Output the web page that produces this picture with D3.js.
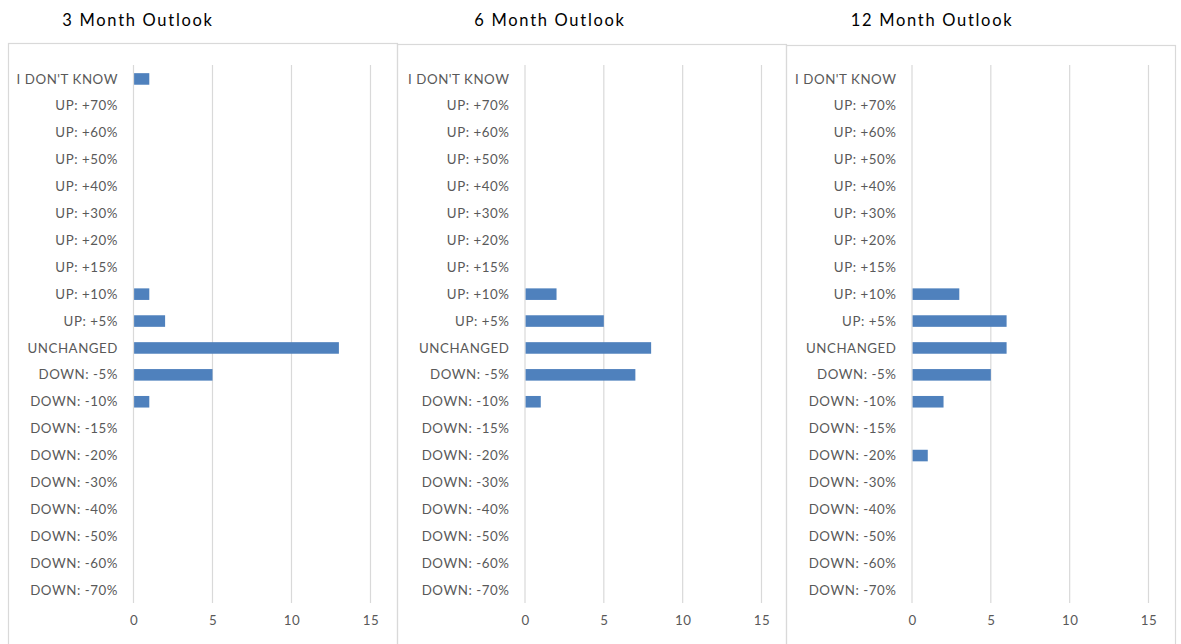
<!DOCTYPE html>
<html>
<head>
<meta charset="utf-8">
<script src="https://cdn.jsdelivr.net/npm/d3@7"></script>
<style>
  html, body { margin: 0; padding: 0; background: #fff; }
  svg { display: block; }
</style>
</head>
<body>
<svg id="chart" width="1181" height="644"></svg>
<script>
// Answer categories, top to bottom
const categories = [
  "I DON'T KNOW", "UP: +70%", "UP: +60%", "UP: +50%", "UP: +40%", "UP: +30%",
  "UP: +20%", "UP: +15%", "UP: +10%", "UP: +5%", "UNCHANGED", "DOWN: -5%",
  "DOWN: -10%", "DOWN: -15%", "DOWN: -20%", "DOWN: -30%", "DOWN: -40%",
  "DOWN: -50%", "DOWN: -60%", "DOWN: -70%"
];

// Response counts per category for each horizon
const outlook3 = [1, 0, 0, 0, 0, 0, 0, 0, 1, 2, 13, 5, 1, 0, 0, 0, 0, 0, 0, 0];
const outlook6 = [0, 0, 0, 0, 0, 0, 0, 0, 2, 5, 8, 7, 1, 0, 0, 0, 0, 0, 0, 0];
const outlook12 = [0, 0, 0, 0, 0, 0, 0, 0, 3, 6, 6, 5, 2, 0, 1, 0, 0, 0, 0, 0];

const panelTitles = ["3 Month Outlook", "6 Month Outlook", "12 Month Outlook"];
const xTicks = [0, 5, 10, 15];

const panels = [
  { title: panelTitles[0], values: outlook3, left: 8, top: 43, x0: 133.5, x1: 370.5, titleX: 138 },
  { title: panelTitles[1], values: outlook6, left: 397, top: 44, x0: 525, x1: 761.5, titleX: 550 },
  { title: panelTitles[2], values: outlook12, left: 786, top: 45, x0: 912, x1: 1148.5, titleX: 932 }
];

const svg = d3.select("#chart");
const font = "Lato, 'Open Sans', sans-serif";
const panelW = 389;
const plotTop = 65, plotBottom = 603;

panels.forEach(p => {
  const g = svg.append("g");

  // panel title above the frame
  g.append("text")
    .attr("x", p.titleX).attr("y", 26)
    .attr("text-anchor", "middle")
    .attr("font-family", font).attr("font-size", 16.5)
    .attr("letter-spacing", 1.7)
    .attr("fill", "#000")
    .text(p.title);

  // panel frame
  g.append("rect")
    .attr("x", p.left + 0.5).attr("y", p.top + 0.5)
    .attr("width", panelW).attr("height", 700)
    .attr("fill", "none").attr("stroke", "#d9d9d9").attr("stroke-width", 1.2);

  const x = d3.scaleLinear().domain([0, 15]).range([p.x0, p.x1]);
  const y = d3.scaleBand().domain(categories).range([plotTop, plotBottom]).paddingInner(0.57).paddingOuter(0.285);

  // vertical gridlines
  g.append("g").selectAll("line").data(xTicks).join("line")
    .attr("x1", d => x(d)).attr("x2", d => x(d))
    .attr("y1", plotTop).attr("y2", plotBottom)
    .attr("stroke", "#d9d9d9").attr("stroke-width", 1.2);

  // bars
  g.append("g").selectAll("rect")
    .data(categories.map((c, i) => ({ c, v: p.values[i] })).filter(d => d.v > 0))
    .join("rect")
    .attr("x", x(0) + 0.6)
    .attr("y", d => y(d.c) + 0.5)
    .attr("width", d => x(d.v) - x(0) - 0.6)
    .attr("height", y.bandwidth())
    .attr("fill", "#4f81bd");

  // category axis
  const yAxis = d3.axisLeft(y).tickSize(0).tickPadding(0);
  const ya = g.append("g").attr("transform", `translate(${p.x0 - 15.5},0.8)`).call(yAxis);
  ya.select(".domain").remove();
  ya.selectAll("text")
    .attr("font-family", font).attr("font-size", 13.3)
    .attr("letter-spacing", 0.55)
    .attr("fill", "#595959");

  // value axis
  const xAxis = d3.axisBottom(x).tickValues(xTicks).tickSize(0).tickPadding(0);
  const xa = g.append("g").attr("transform", `translate(0,${plotBottom + 13})`).call(xAxis);
  xa.select(".domain").remove();
  xa.selectAll("text")
    .attr("font-family", font).attr("font-size", 13.3)
    .attr("letter-spacing", 0.5)
    .attr("fill", "#595959")
    .attr("dy", "0.71em");
});
</script>
</body>
</html>
